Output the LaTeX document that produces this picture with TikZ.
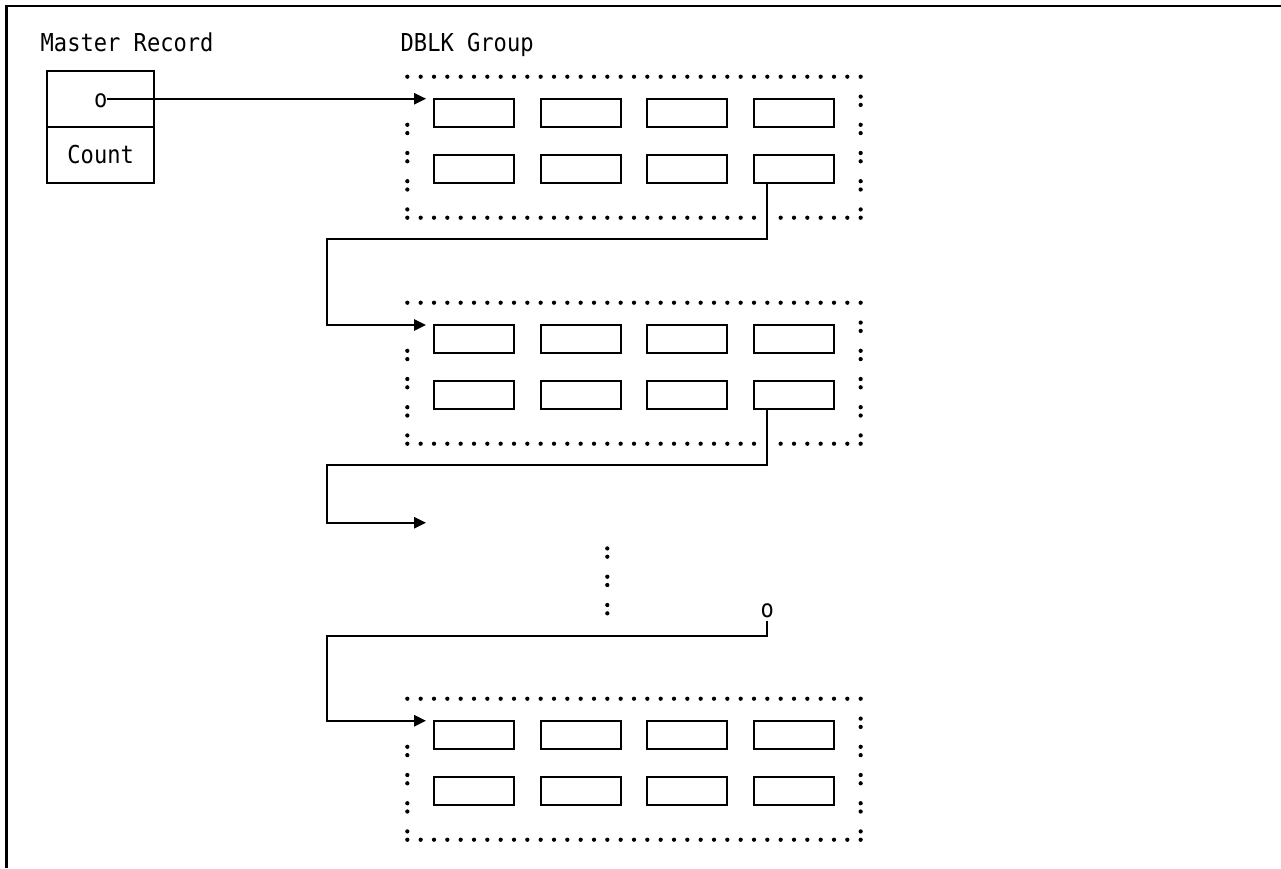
\documentclass[tikz,border=0pt]{standalone}
\usepackage{fontspec}
\newfontfamily\monofont[FakeStretch=0.895]{DejaVu Sans Mono}
\usetikzlibrary{arrows.meta,calc}

\tikzset{
  txt/.style={font=\fontsize{18.5}{20}\selectfont\monofont, inner sep=0pt, outer sep=0pt},
  cell/.style={draw, line width=1.35pt, minimum width=60pt, minimum height=21pt, inner sep=0pt, outer sep=0pt},
  conn/.style={line width=1.35pt},
  tip/.style={-{Triangle[length=9pt,width=8.5pt]}},
}

% one dot of a dotted rule
\newcommand\pdot[2]{\fill (#1,#2) circle[radius=1.6pt];}
% a colon: two dots, the lower one on the baseline
\newcommand\pcolon[2]{\fill (#1,#2) circle[radius=1.6pt] (#1,#2-8.3) circle[radius=1.6pt];}

% a DBLK group: #1 name, #2 baseline of the top dotted rule, #3 columns of the bottom rule
\newcommand\dblkgroup[3]{%
  \foreach \k in {0,...,34} {\pdot{407.33+13.333*\k}{#2}}
  \foreach \n in {1,...,5} {\pcolon{860.65}{#2+28.2*\n}}
  \foreach \n in {2,...,5} {\pcolon{407.33}{#2+28.2*\n}}
  \foreach \k in {#3} {\pdot{407.33+13.333*\k}{#2+141}}
  \foreach \i in {1,...,4} {
    \node[cell] (#1-1-\i) at (473.97+106.67*\i-106.67,#2+36) {};
    \node[cell] (#1-2-\i) at (473.97+106.67*\i-106.67,#2+92.5) {};
  }
}

\begin{document}
\begin{tikzpicture}[x=0.75pt,y=-0.75pt]
\useasboundingbox (0,0) rectangle (1281,868);

% frame
\draw[line width=1.6pt] (6.5,868) -- (6.5,6) -- (1281,6);

% titles
\node[txt, anchor=base west] (mtitle) at (40.7,51) {Master Record};
\node[txt, anchor=base west] (gtitle) at (400.7,51) {DBLK Group};

% master record
\node[draw, line width=1.35pt, minimum width=80.5pt, minimum height=84.45pt, inner sep=0pt, outer sep=0pt] (mrec) at (100.33,127) {};
\draw[line width=1.35pt] (mrec.west) -- (mrec.east);
\node[txt, anchor=base] (mo) at (100.67,107.4) {o};
\node[txt, anchor=base] (mcount) at (100.67,163.5) {Count};

% groups
\dblkgroup{ga}{76.7}{1,...,26,28,29,...,33}
\dblkgroup{gb}{302.7}{1,...,26,28,29,...,33}
\dblkgroup{gc}{698.7}{1,...,33}

% continuation marks
\pcolon{607.3}{556.7}
\pcolon{607.3}{585}
\pcolon{607.3}{613.3}
\node[txt, anchor=base] (ob) at (767.3,617) {o};

% chain pointers
\coordinate (in1) at (426,98.7);
\coordinate (turn1) at (327.3,239.3);
\coordinate (in2) at (426,325);
\coordinate (turn2) at (327.3,465.3);
\coordinate (in3) at (426,522.7);
\coordinate (turn3) at (327.3,636);
\coordinate (in4) at (426,720.7);

\draw[conn,tip] (mo.east |- in1) -- (in1);
\draw[conn,tip] ($(ga-2-4.south west)!0.1667!(ga-2-4.south east)$) |- (turn1) |- (in2);
\draw[conn,tip] ($(gb-2-4.south west)!0.1667!(gb-2-4.south east)$) |- (turn2) |- (in3);
\draw[conn,tip] ([yshift=-2.5pt]ob.south) |- (turn3) |- (in4);
\end{tikzpicture}
\end{document}
